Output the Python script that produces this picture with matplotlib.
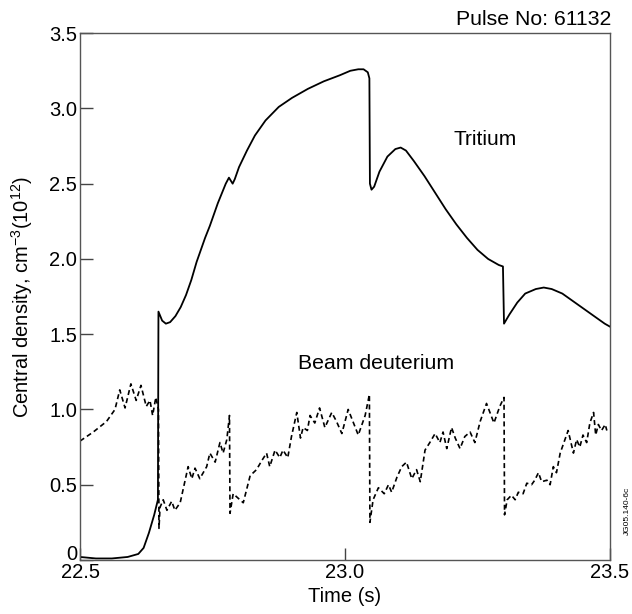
import numpy as np
import matplotlib.pyplot as plt
from matplotlib.transforms import ScaledTranslation

plt.rcParams['font.family'] = ['Liberation Sans', 'DejaVu Sans']
plt.rcParams['mathtext.fontset'] = 'custom'
plt.rcParams['mathtext.rm'] = 'Liberation Sans'
plt.rcParams['mathtext.it'] = 'Liberation Sans:italic'

# tritium central density (solid)
t_tritium = [22.50, 22.53, 22.56, 22.59, 22.61, 22.62, 22.63, 22.64, 22.647,
             22.648, 22.655, 22.662, 22.670, 22.680, 22.690, 22.700, 22.710,
             22.720, 22.736, 22.745, 22.760, 22.775, 22.781, 22.788, 22.792,
             22.800, 22.815, 22.830, 22.850, 22.875, 22.900, 22.930, 22.960,
             22.990, 23.010, 23.025, 23.035, 23.043, 23.046, 23.047, 23.050,
             23.055, 23.065, 23.080, 23.095, 23.105, 23.115, 23.130, 23.150,
             23.170, 23.190, 23.210, 23.230, 23.250, 23.270, 23.290, 23.298,
             23.300, 23.310, 23.325, 23.340, 23.360, 23.375, 23.390, 23.410,
             23.430, 23.450, 23.470, 23.490, 23.500]
n_tritium = [0.02, 0.01, 0.01, 0.02, 0.04, 0.08, 0.18, 0.30, 0.40,
             1.65, 1.59, 1.57, 1.58, 1.62, 1.68, 1.76, 1.86,
             1.98, 2.14, 2.22, 2.37, 2.50, 2.54, 2.50, 2.53,
             2.61, 2.72, 2.82, 2.92, 3.01, 3.07, 3.13, 3.18,
             3.22, 3.25, 3.26, 3.26, 3.24, 3.20, 2.50, 2.46,
             2.48, 2.58, 2.68, 2.73, 2.74, 2.72, 2.65, 2.55,
             2.44, 2.33, 2.23, 2.14, 2.06, 2.00, 1.96, 1.95,
             1.57, 1.63, 1.71, 1.77, 1.80, 1.81, 1.80, 1.77,
             1.72, 1.67, 1.62, 1.57, 1.55]

# beam deuterium central density (dashed)
t_beam = [22.500, 22.525, 22.550, 22.566, 22.575, 22.585, 22.596, 22.606,
          22.615, 22.625, 22.632, 22.637, 22.643, 22.648, 22.649, 22.651,
          22.657, 22.664, 22.673, 22.679, 22.689, 22.704, 22.711, 22.717,
          22.726, 22.739, 22.745, 22.755, 22.764, 22.770, 22.777, 22.782,
          22.783, 22.789, 22.808, 22.821, 22.833, 22.843, 22.852, 22.858,
          22.868, 22.877, 22.883, 22.892, 22.899, 22.909, 22.916, 22.921,
          22.929, 22.934, 22.943, 22.952, 22.962, 22.975, 22.984, 22.994,
          23.006, 23.025, 23.038, 23.046, 23.047, 23.053, 23.063, 23.074,
          23.082, 23.088, 23.098, 23.107, 23.116, 23.126, 23.135, 23.142,
          23.151, 23.160, 23.170, 23.179, 23.185, 23.192, 23.201, 23.208,
          23.217, 23.226, 23.236, 23.245, 23.255, 23.267, 23.281, 23.292,
          23.300, 23.301, 23.306, 23.314, 23.321, 23.327, 23.336, 23.343,
          23.352, 23.358, 23.365, 23.371, 23.381, 23.387, 23.393, 23.399,
          23.406, 23.415, 23.421, 23.431, 23.437, 23.443, 23.449, 23.456,
          23.462, 23.469, 23.473, 23.478, 23.484, 23.491, 23.494]
n_beam = [0.79, 0.85, 0.92, 1.00, 1.13, 1.01, 1.17, 1.06,
          1.16, 1.02, 1.06, 0.96, 1.08, 1.00, 0.21, 0.35,
          0.40, 0.33, 0.39, 0.33, 0.38, 0.62, 0.54, 0.61,
          0.54, 0.62, 0.71, 0.65, 0.78, 0.71, 0.80, 0.96,
          0.31, 0.44, 0.38, 0.56, 0.60, 0.66, 0.71, 0.62,
          0.73, 0.68, 0.73, 0.68, 0.82, 0.98, 0.81, 0.88,
          0.86, 0.96, 0.91, 1.01, 0.88, 0.98, 0.92, 0.84,
          1.00, 0.83, 0.96, 1.10, 0.25, 0.40, 0.48, 0.44,
          0.50, 0.45, 0.55, 0.62, 0.65, 0.54, 0.60, 0.52,
          0.73, 0.78, 0.84, 0.78, 0.85, 0.74, 0.88, 0.81,
          0.74, 0.82, 0.85, 0.78, 0.92, 1.04, 0.91, 1.02,
          1.08, 0.30, 0.40, 0.43, 0.40, 0.45, 0.44, 0.51,
          0.50, 0.53, 0.58, 0.52, 0.53, 0.50, 0.62, 0.58,
          0.71, 0.80, 0.86, 0.71, 0.80, 0.75, 0.83, 0.78,
          0.91, 0.98, 0.83, 0.90, 0.86, 0.90, 0.86]

x_ticks = [22.5, 23.0, 23.5]
x_labels = ['22.5', '23.0', '23.5']
y_ticks = [0, 0.5, 1.0, 1.5, 2.0, 2.5, 3.0, 3.5]
y_labels = ['0', '0.5', '1.0', '1.5', '2.0', '2.5', '3.0', '3.5']

fig = plt.figure(figsize=(6.32, 6.14), dpi=100)
ax = fig.add_axes([0.1266, 0.088, 0.8386, 0.858])

ax.plot(t_tritium, n_tritium, color='black', lw=1.3)
ax.plot(t_beam, n_beam, color='black', lw=1.2, linestyle=(0, (3, 2)))

ax.set_xlim(22.5, 23.5)
ax.set_ylim(0, 3.5)
ax.set_xticks(x_ticks)
ax.set_xticklabels(x_labels)
ax.set_yticks(y_ticks)
ax.set_yticklabels(y_labels)
ax.tick_params(direction='in', length=9, width=1, color='#444444',
               labelsize=14.5, pad=2)

# the "0" sits a little higher than the axis corner
zero = ax.get_yticklabels()[0]
zero.set_transform(zero.get_transform() +
                   ScaledTranslation(0, 0.07, fig.dpi_scale_trans))

for s in ax.spines.values():
    s.set_color('#555555')
    s.set_linewidth(1)

ax.set_xlabel('Time (s)', fontsize=14.5, labelpad=4)
ax.set_ylabel('Central density, cm$^{-3}$(10$^{12}$)', fontsize=14.5,
              labelpad=10)

ax.text(23.264, 2.756, 'Tritium', fontsize=15, ha='center', va='baseline')
ax.text(23.059, 1.27, 'Beam deuterium', fontsize=15.3, ha='center',
        va='baseline')
fig.text(0.967, 0.959, 'Pulse No: 61132', fontsize=15.3, ha='right',
         va='baseline')
fig.text(0.998, 0.129, 'JG05.140-6c', fontsize=6, rotation=90,
         ha='right', va='bottom')

fig.savefig('out.png', dpi=100)
